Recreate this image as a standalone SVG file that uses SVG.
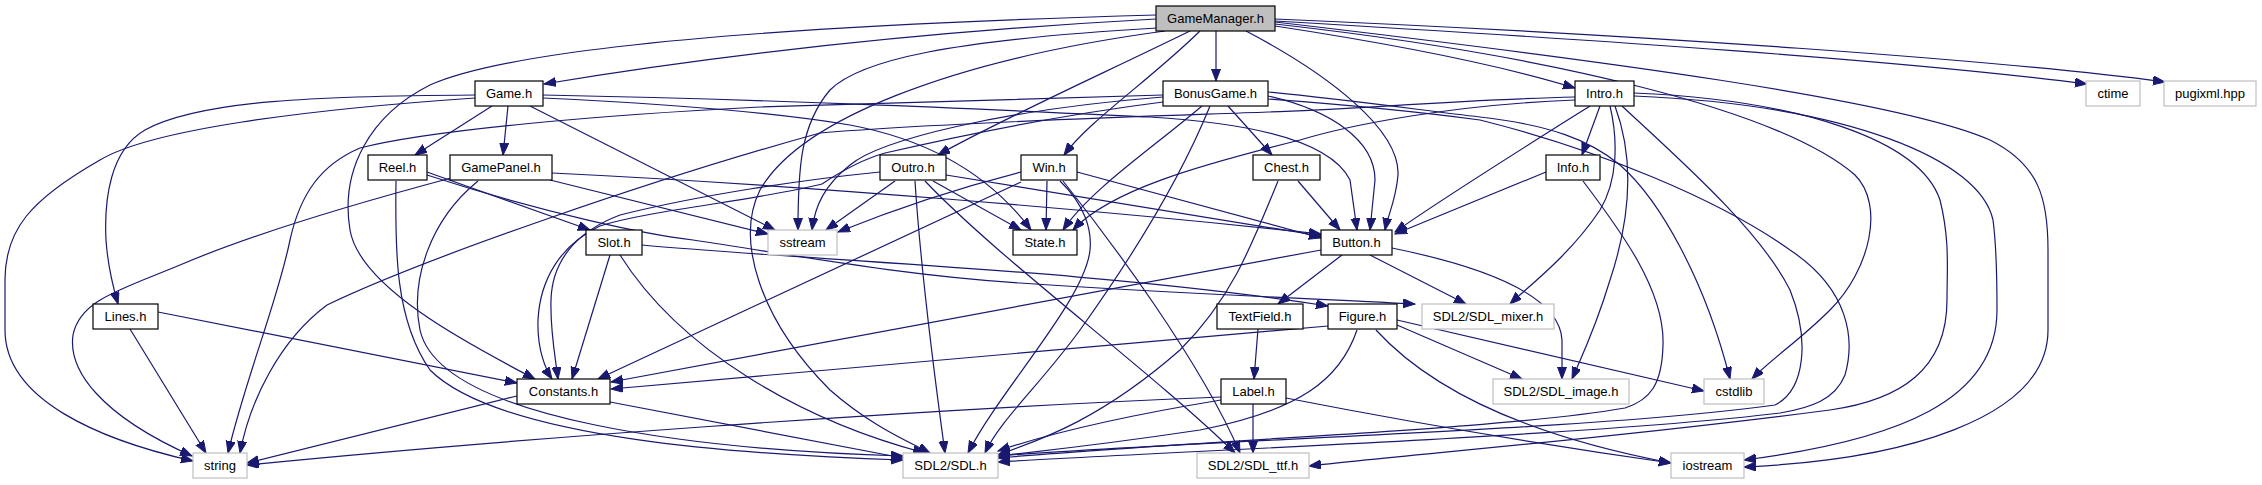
<svg xmlns="http://www.w3.org/2000/svg" width="2262" height="485" viewBox="0 0 2262 485">
<defs>
<style>
.n rect{fill:#fff;stroke:#000;stroke-width:1.2}
.n.root rect{fill:#bfbfbf}
.n.ext rect{stroke:#bfbfbf}
.n text{font-family:"Liberation Sans",Arial,sans-serif;font-size:13px;text-anchor:middle;fill:#000}
.e path{fill:none;stroke:#191970;stroke-width:1.2;marker-end:url(#a)}
</style>
<marker id="a" markerWidth="13" markerHeight="10" refX="12" refY="4.5" orient="auto" markerUnits="userSpaceOnUse"><path d="M0,0 L12,4.5 L0,9 z" fill="#191970" stroke="#191970" stroke-width="1"/></marker>
</defs>
<rect width="2262" height="485" fill="#fff"/>
<g id="edges" class="e">
<!-- GameManager.h -->
<path d="M1156,19 C900,33 700,58 544,84"/>
<path d="M1156,15 C800,25 520,45 430,85 C370,115 340,170 350,230 C360,290 480,350 535,379"/>
<path d="M1157,28 C950,40 860,60 830,90 C800,125 798,170 798,230"/>
<path d="M1165,31 C950,60 800,120 760,190 C735,240 760,320 830,390 C870,425 905,440 930,453"/>
<path d="M1190,31 C1100,75 1000,120 938,155"/>
<path d="M1200,31 C1150,80 1090,120 1064,155"/>
<path d="M1216,31 L1216,81"/>
<path d="M1246,31 C1330,75 1400,130 1398,175 C1396,200 1388,215 1385,230"/>
<path d="M1275,26 C1400,45 1500,65 1575,88"/>
<path d="M1275,21 C1600,40 1900,60 2087,84"/>
<path d="M1275,19 C1650,35 2000,60 2165,82"/>
<path d="M1275,24 C1550,55 1780,110 1855,175 C1885,205 1870,270 1830,310 C1800,340 1770,360 1752,379"/>
<path d="M1275,22 C1600,60 1900,100 1990,140 C2040,165 2048,200 2048,250 L2048,330 C2048,420 1900,460 1744,467"/>
<!-- Game.h -->
<path d="M492,106 L415,155"/>
<path d="M508,106 L503,155"/>
<path d="M475,95 C320,96 200,100 145,130 C110,150 104,200 106,240 C108,270 114,290 118,304"/>
<path d="M475,98 C300,110 150,130 100,160 C30,200 5,230 5,280 L5,330 C5,400 100,440 193,461"/>
<path d="M530,106 L775,230"/>
<path d="M543,98 C650,103 760,110 850,125 C930,140 990,175 1031,230"/>
<path d="M543,95 C800,100 1000,110 1150,117 C1250,123 1330,140 1350,180 L1357,230"/>
<!-- BonusGame.h -->
<path d="M1228,106 L1272,155"/>
<path d="M1202,106 C1150,150 1090,190 1063,230"/>
<path d="M1210,106 C1180,180 1130,260 1080,330 C1040,385 1000,420 985,453"/>
<path d="M1163,97 C1000,110 880,140 850,165 C825,185 815,205 812,230"/>
<path d="M1163,95 C1000,100 850,104 760,107 C600,115 430,130 360,148 C320,165 300,195 290,240 C278,300 245,380 228,453"/>
<path d="M1163,102 C1060,115 950,138 885,153 C860,160 840,172 822,184 C760,200 650,210 600,226 C560,245 540,280 538,320 C537,350 546,370 552,379"/>
<path d="M1268,96 C1330,110 1375,140 1375,180 L1370,230"/>
<path d="M1268,92 C1350,100 1420,110 1480,117 C1550,125 1590,140 1620,165 C1660,200 1705,280 1730,379"/>
<path d="M1268,99 C1350,105 1420,112 1480,120 C1600,150 1720,200 1790,250 C1850,290 1855,340 1845,375 C1835,400 1810,408 1780,413 C1600,435 1200,450 998,462"/>
<!-- Intro.h -->
<path d="M1600,106 L1582,155"/>
<path d="M1590,106 C1520,150 1440,200 1395,232"/>
<path d="M1575,100 C1450,105 1350,125 1300,140 C1200,165 1110,190 1073,230"/>
<path d="M1610,106 C1618,140 1618,180 1600,210 C1570,255 1530,285 1510,304"/>
<path d="M1615,106 C1635,160 1630,220 1610,280 C1595,330 1580,360 1572,379"/>
<path d="M1622,106 C1680,160 1760,230 1790,290 C1810,340 1805,390 1775,405 C1600,430 1200,440 998,456"/>
<path d="M1634,93 C1800,100 1920,140 1940,200 C1950,240 1947,270 1947,300 C1947,370 1900,400 1830,410 C1600,440 1400,455 1309,466"/>
<path d="M1634,96 C1850,105 1980,160 1993,220 C1997,250 1997,280 1997,310 C1997,400 1900,440 1744,460"/>
<path d="M1575,97 C1450,100 1350,110 1268,112 C1160,116 950,122 820,133 C650,180 420,260 327,305 C280,340 250,400 240,453"/>
<!-- Outro.h -->
<path d="M895,181 L826,230"/>
<path d="M933,181 L1021,230"/>
<path d="M946,175 L1321,236"/>
<path d="M915,181 C920,260 935,380 945,453"/>
<path d="M925,181 C1000,260 1150,370 1235,453"/>
<path d="M880,172 C800,180 700,195 620,215 C575,232 552,262 551,300 C550,330 555,355 558,379"/>
<!-- Win.h -->
<path d="M1021,172 C950,190 880,215 838,232"/>
<path d="M1047,181 L1046,230"/>
<path d="M1077,172 L1321,238"/>
<path d="M1021,182 L598,379"/>
<path d="M1060,181 C1085,205 1092,230 1090,250 C1085,300 1000,390 968,453"/>
<path d="M1063,181 C1110,240 1200,360 1240,453"/>
<!-- Chest.h -->
<path d="M1298,181 L1340,230"/>
<path d="M1278,181 C1250,250 1230,300 1180,350 C1100,420 1040,440 998,455"/>
<!-- Info.h -->
<path d="M1546,172 L1395,234"/>
<path d="M1583,181 C1620,230 1665,290 1663,345 C1662,385 1650,400 1625,408 C1500,430 1200,440 998,458"/>
<!-- Reel.h -->
<path d="M427,172 L590,230"/>
<path d="M396,181 C395,250 395,320 430,370 C500,440 750,455 903,460"/>
<path d="M427,175 C550,215 650,235 693,240 C800,256 900,275 1020,283 C1200,295 1350,300 1415,304"/>
<!-- GamePanel.h -->
<path d="M451,178 C350,205 250,235 180,265 C120,290 80,300 73,335 C68,370 100,415 192,456"/>
<path d="M478,181 C430,220 410,280 420,330 C440,420 700,450 903,456"/>
<path d="M550,180 L768,234"/>
<path d="M552,173 C800,185 1100,210 1321,234"/>
<!-- Slot.h -->
<path d="M642,245 C800,260 1100,270 1328,306"/>
<path d="M610,255 L572,379"/>
<path d="M620,255 C680,350 800,420 925,453"/>
<!-- Lines.h -->
<path d="M158,312 L517,383"/>
<path d="M130,329 L206,453"/>
<!-- Constants.h -->
<path d="M517,396 L247,463"/>
<path d="M610,402 L903,458"/>
<!-- Button.h -->
<path d="M1342,255 L1278,304"/>
<path d="M1370,255 L1466,304"/>
<path d="M1392,248 C1500,270 1560,300 1562,340 L1562,379"/>
<path d="M1321,250 L611,382"/>
<!-- Figure.h -->
<path d="M1328,326 L611,389"/>
<path d="M1357,330 C1340,380 1300,410 1200,430 C1100,445 1050,450 998,456"/>
<path d="M1397,325 L1522,379"/>
<path d="M1397,320 L1704,391"/>
<path d="M1376,330 C1440,400 1550,440 1671,463"/>
<!-- TextField.h -->
<path d="M1258,329 L1254,379"/>
<!-- Label.h -->
<path d="M1221,397 C900,410 500,440 247,465"/>
<path d="M1221,400 C1100,420 1030,440 998,451"/>
<path d="M1253,404 L1253,453"/>
<path d="M1286,398 C1450,430 1580,450 1671,463"/>
</g>
<g id="GameManager" class="n root"><rect x="1156" y="6" width="119" height="25"/><text x="1215.5" y="23">GameManager.h</text></g>
<g id="Game" class="n"><rect x="475" y="81" width="68" height="25"/><text x="509" y="98">Game.h</text></g>
<g id="BonusGame" class="n"><rect x="1163" y="81" width="105" height="25"/><text x="1215.5" y="98">BonusGame.h</text></g>
<g id="Intro" class="n"><rect x="1575" y="81" width="59" height="25"/><text x="1604.5" y="98">Intro.h</text></g>
<g id="ctime" class="n ext"><rect x="2086" y="81" width="54" height="25"/><text x="2113" y="98">ctime</text></g>
<g id="pugixml" class="n ext"><rect x="2164" y="81" width="92" height="25"/><text x="2210" y="98">pugixml.hpp</text></g>
<g id="Reel" class="n"><rect x="368" y="155" width="59" height="25"/><text x="397.5" y="172">Reel.h</text></g>
<g id="GamePanel" class="n"><rect x="450" y="155" width="102" height="25"/><text x="501" y="172">GamePanel.h</text></g>
<g id="Outro" class="n"><rect x="880" y="155" width="66" height="25"/><text x="913" y="172">Outro.h</text></g>
<g id="Win" class="n"><rect x="1021" y="155" width="56" height="25"/><text x="1049" y="172">Win.h</text></g>
<g id="Chest" class="n"><rect x="1253" y="155" width="67" height="25"/><text x="1286.5" y="172">Chest.h</text></g>
<g id="Info" class="n"><rect x="1546" y="155" width="54" height="25"/><text x="1573" y="172">Info.h</text></g>
<g id="Slot" class="n"><rect x="586" y="230" width="56" height="25"/><text x="614" y="247">Slot.h</text></g>
<g id="sstream" class="n ext"><rect x="768" y="230" width="69" height="25"/><text x="802.5" y="247">sstream</text></g>
<g id="State" class="n"><rect x="1013" y="230" width="64" height="25"/><text x="1045" y="247">State.h</text></g>
<g id="Button" class="n"><rect x="1321" y="230" width="71" height="25"/><text x="1356.5" y="247">Button.h</text></g>
<g id="Lines" class="n"><rect x="93" y="304" width="65" height="25"/><text x="125.5" y="321">Lines.h</text></g>
<g id="TextField" class="n"><rect x="1217" y="304" width="86" height="25"/><text x="1260" y="321">TextField.h</text></g>
<g id="Figure" class="n"><rect x="1328" y="304" width="69" height="25"/><text x="1362.5" y="321">Figure.h</text></g>
<g id="SDL_mixer" class="n ext"><rect x="1422" y="304" width="132" height="25"/><text x="1488" y="321">SDL2/SDL_mixer.h</text></g>
<g id="Constants" class="n"><rect x="517" y="379" width="93" height="25"/><text x="563.5" y="396">Constants.h</text></g>
<g id="Label" class="n"><rect x="1221" y="379" width="65" height="25"/><text x="1253.5" y="396">Label.h</text></g>
<g id="SDL_image" class="n ext"><rect x="1493" y="379" width="136" height="25"/><text x="1561" y="396">SDL2/SDL_image.h</text></g>
<g id="cstdlib" class="n ext"><rect x="1704" y="379" width="60" height="25"/><text x="1734" y="396">cstdlib</text></g>
<g id="string" class="n ext"><rect x="193" y="453" width="54" height="25"/><text x="220" y="470">string</text></g>
<g id="SDL" class="n ext"><rect x="903" y="453" width="95" height="25"/><text x="950.5" y="470">SDL2/SDL.h</text></g>
<g id="SDL_ttf" class="n ext"><rect x="1197" y="453" width="112" height="25"/><text x="1253" y="470">SDL2/SDL_ttf.h</text></g>
<g id="iostream" class="n ext"><rect x="1671" y="453" width="73" height="25"/><text x="1707.5" y="470">iostream</text></g>
</svg>
